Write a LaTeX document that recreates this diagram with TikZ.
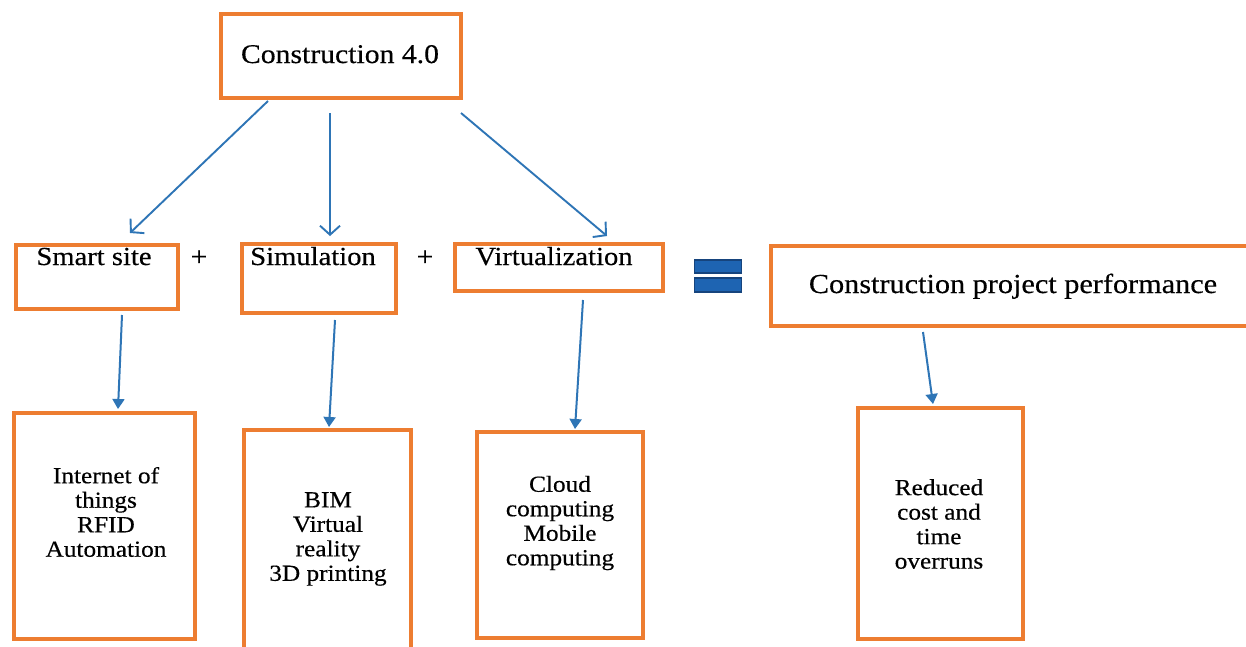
\documentclass[tikz,border=0pt]{standalone}
\usepackage{fontspec}
\setmainfont{Liberation Serif}[FakeStretch=1.1,FakeBold=0.4]
\usetikzlibrary{arrows.meta}
\definecolor{orng}{RGB}{237,125,49}
\definecolor{arrblue}{RGB}{46,117,182}
\definecolor{eqfill}{RGB}{30,100,178}
\definecolor{eqedge}{RGB}{22,68,125}
\tikzset{
  box/.style={draw=orng, line width=3.2pt, rectangle, inner sep=0pt, fill=none},
  toptext/.style={anchor=base, inner sep=0pt, font=\fontsize{26}{30}\selectfont},
  bottext/.style={align=center, inner sep=0pt, font=\fontsize{23}{24.5}\selectfont},
  openarr/.style={draw=arrblue, line width=1.9pt, -{Straight Barb[length=9pt,width=20pt,line width=1.9pt]}},
  fillarr/.style={draw=arrblue, line width=2pt, -{Triangle[length=10pt,width=12pt]}},
  plus/.style={inner sep=0pt, font=\fontsize{27}{30}\selectfont}
}
\begin{document}
\begin{tikzpicture}[x=1pt,y=-1pt]
\useasboundingbox (0,0) rectangle (1246,646);
\clip (0,0) rectangle (1246,646);
\fill[white] (0,0) rectangle (1246,646);

% boxes
\node[box, minimum width=240pt, minimum height=84pt] (top) at (341,56) {};
\node[box, minimum width=162pt, minimum height=64pt] (smart) at (97,277) {};
\node[box, minimum width=154pt, minimum height=69pt] (sim) at (319,278.5) {};
\node[box, minimum width=208pt, minimum height=47pt] (virt) at (559,267.5) {};
\node[box, minimum width=499pt, minimum height=80pt] (cpp) at (1020.5,286) {};
\node[box, minimum width=181pt, minimum height=226pt] (b1) at (104.5,526) {};
\node[box, minimum width=167pt, minimum height=230pt] (b2) at (327.5,545) {};
\node[box, minimum width=166pt, minimum height=206pt] (b3) at (560,535) {};
\node[box, minimum width=165pt, minimum height=231pt] (b4) at (940.5,523.5) {};

% texts
\node[toptext, font=\fontsize{27}{30}\selectfont] (ttop) at (340,63) {Construction 4.0};
\node[toptext] (tsmart) at (94,265) {Smart site};
\node[toptext] (tsim) at (313,265) {Simulation};
\node[toptext] (tvirt) at (554,265) {Virtualization};
\node[toptext, font=\fontsize{27.5}{30}\selectfont] (tcpp) at (1013,293) {Construction project performance};

\node[bottext] (t1) at (106,512) {Internet of\\things\\RFID\\Automation};
\node[bottext] (t2) at (328,539) {BIM\\Virtual\\reality\\3D printing};
\node[bottext] (t3) at (560,523) {Cloud\\computing\\Mobile\\computing};
\node[bottext] (t4) at (939,524) {Reduced\\cost and\\time\\overruns};

% plus signs
\node[plus] (p1) at (199,258) {+};
\node[plus] (p2) at (425,258) {+};

% equals sign
\node[draw=eqedge, fill=eqfill, line width=1.2pt, minimum width=47pt, minimum height=13pt, inner sep=0pt] (eq1) at (718,266.5) {};
\node[draw=eqedge, fill=eqfill, line width=1.2pt, minimum width=47pt, minimum height=14pt, inner sep=0pt] (eq2) at (718,285) {};

% connector end points
\coordinate (s1) at (268,101);
\coordinate (e1) at (130,233);
\coordinate (s2) at (330,113);
\coordinate (e2) at (330,236);
\coordinate (s3) at (461,113);
\coordinate (e3) at (607,236);

\coordinate (d1s) at (122,315);
\coordinate (d1e) at (118,409);
\coordinate (d2s) at (335,320);
\coordinate (d2e) at (329,427);
\coordinate (d3s) at (583,300);
\coordinate (d3e) at (575,429);
\coordinate (d4s) at (923,332);
\coordinate (d4e) at (933,404);

\draw[openarr] (s1) -- (e1);
\draw[openarr] (s2) -- (e2);
\draw[openarr] (s3) -- (e3);

\draw[fillarr] (d1s) -- (d1e);
\draw[fillarr] (d2s) -- (d2e);
\draw[fillarr] (d3s) -- (d3e);
\draw[fillarr] (d4s) -- (d4e);
\end{tikzpicture}
\end{document}
